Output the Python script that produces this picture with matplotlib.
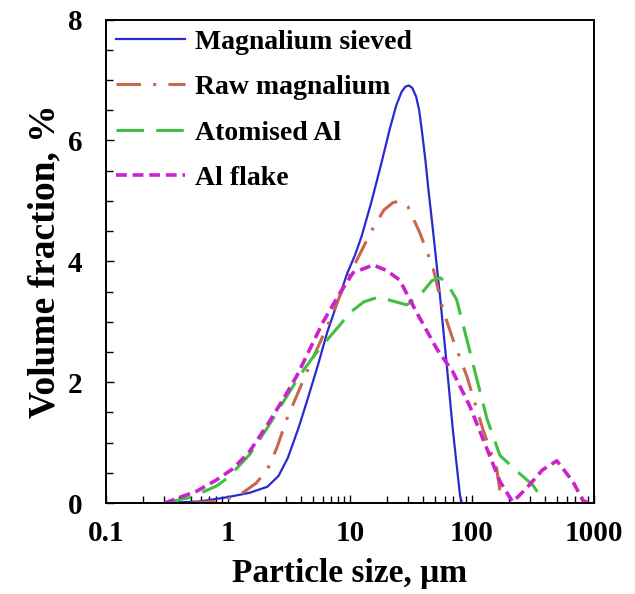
import numpy as np
import matplotlib
matplotlib.use("Agg")
import matplotlib.pyplot as plt
from matplotlib.ticker import LogLocator, MultipleLocator, FixedLocator, NullFormatter, FixedFormatter

plt.rcParams['font.family'] = ['Liberation Serif', 'DejaVu Serif']
plt.rcParams['font.weight'] = 'bold'

# Magnalium sieved
sieved_x = [0.3, 0.6, 1.0, 1.5, 2.1, 2.6, 3.1, 3.8, 4.5, 5.5, 6.5, 8.0, 9.5, 11, 12.5, 15, 18, 21.3, 24, 26.5, 28.5, 30.5, 32.5, 35, 37, 39, 41.5, 44, 48, 55, 62, 70, 80, 83]
sieved_y = [0, 0.03, 0.1, 0.17, 0.27, 0.45, 0.75, 1.25, 1.72, 2.3, 2.82, 3.35, 3.8, 4.1, 4.42, 4.98, 5.6, 6.2, 6.58, 6.8, 6.89, 6.91, 6.87, 6.72, 6.5, 6.15, 5.7, 5.2, 4.52, 3.4, 2.33, 1.2, 0.13, 0]

# Raw magnalium
raw_x = [0.5, 0.8, 1.0, 1.3, 1.7, 2.1, 2.5, 3.05, 4.5, 6.5, 9.0, 11.4, 15, 19, 22.5, 25.7, 30, 37.5, 48, 58, 70, 91, 123, 160, 176]
raw_y = [0, 0.03, 0.07, 0.16, 0.33, 0.55, 0.9, 1.4, 2.2, 2.92, 3.6, 4.02, 4.5, 4.85, 4.97, 5.0, 4.9, 4.47, 3.9, 3.2, 2.71, 2.1, 1.23, 0.57, 0.0]

# Atomised Al
atom_x = [0.3, 0.5, 0.8, 1.0, 1.5, 2.08, 3.0, 3.9, 5.0, 6.5, 8.3, 10, 13, 16.6, 21, 29.3, 38, 47, 54.7, 62, 75, 91, 110, 133, 170, 234, 316, 400]
atom_y = [0, 0.1, 0.28, 0.42, 0.8, 1.23, 1.75, 2.12, 2.42, 2.7, 2.95, 3.15, 3.33, 3.4, 3.36, 3.28, 3.45, 3.68, 3.73, 3.65, 3.37, 2.71, 2.05, 1.4, 0.79, 0.53, 0.3, 0]

# Al flake
flake_x = [0.3, 0.557, 0.8, 1.1, 1.5, 2.08, 2.8, 3.66, 4.7, 6.0, 8.3, 10.6, 15.5, 20, 25.6, 35.4, 51.7, 70, 96, 133, 170, 200, 217, 282, 380, 498, 673, 813, 900]
flake_y = [0, 0.2, 0.38, 0.57, 0.85, 1.28, 1.7, 2.1, 2.55, 2.99, 3.48, 3.81, 3.94, 3.85, 3.69, 3.15, 2.55, 2.17, 1.61, 0.9, 0.36, 0.13, 0.02, 0.25, 0.55, 0.7, 0.36, 0.05, 0]

labels = ["Magnalium sieved", "Raw magnalium", "Atomised Al", "Al flake"]
xticks = [0.1, 1, 10, 100, 1000]
xticklabels = ["0.1", "1", "10", "100", "1000"]
yticks = [0, 2, 4, 6, 8]

fig = plt.figure(figsize=(6.35, 5.94), dpi=100)
ax = fig.add_axes([0.167, 0.153, 0.768, 0.814])

ax.plot(sieved_x, sieved_y, color="#2a2ad0", lw=1.6, ls="-", label=labels[0])
ax.plot(raw_x, raw_y, color="#c8664e", lw=2.2, ls=(0, (8, 4, 1, 4)), label=labels[1])
ax.plot(atom_x, atom_y, color="#40c040", lw=2.2, ls=(0, (9, 4)), label=labels[2])
ax.plot(flake_x, flake_y, color="#cc22cc", lw=2.6, ls=(0, (3, 1.6)), label=labels[3])

ax.set_xscale("log")
ax.set_xlim(0.1, 1000)
ax.set_ylim(0, 8)
ax.xaxis.set_major_locator(FixedLocator(xticks))
ax.xaxis.set_major_formatter(FixedFormatter(xticklabels))
ax.xaxis.set_minor_locator(LogLocator(base=10, subs=np.arange(2, 10)))
ax.xaxis.set_minor_formatter(NullFormatter())
ax.yaxis.set_major_locator(FixedLocator(yticks))
ax.yaxis.set_minor_locator(MultipleLocator(0.5))

ax.tick_params(which="both", direction="in", top=False, right=False, labelsize=21)
ax.tick_params(axis="x", which="both", pad=12)
ax.tick_params(axis="y", which="both", pad=17)
ax.tick_params(which="major", length=6, width=1.0)
ax.tick_params(which="minor", length=5, width=1.0)
for s in ax.spines.values():
    s.set_linewidth(1.4)

ax.set_xlabel("Particle size, \u03bcm", fontsize=24, fontweight="bold", labelpad=8)
ax.set_ylabel("Volume fraction, %", fontsize=27, fontweight="bold", labelpad=4)

leg = ax.legend(loc="upper left", frameon=False, fontsize=20, handlelength=2.5,
                handletextpad=0.35, labelspacing=0.72, borderaxespad=0.1, borderpad=0.25)

fig.savefig("out.png", dpi=100)
